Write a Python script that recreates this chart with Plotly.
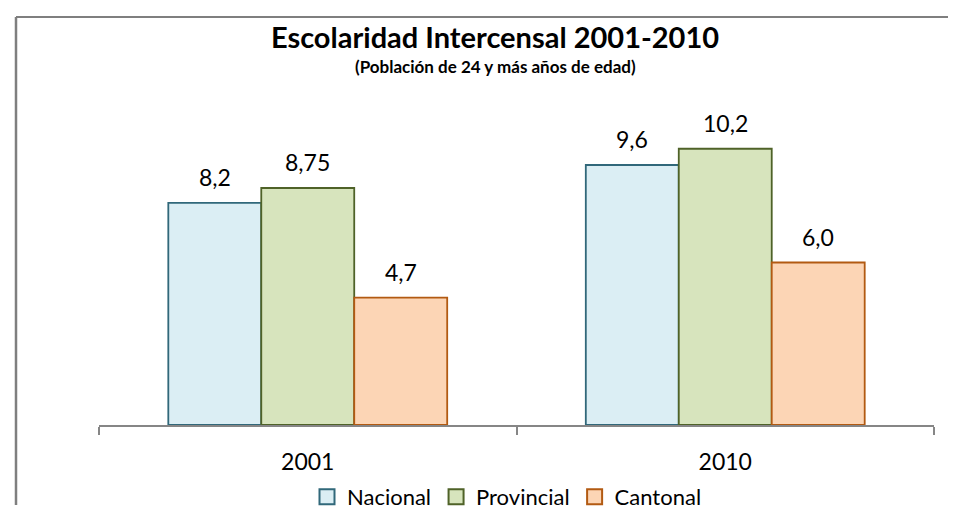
import plotly.graph_objects as go

# datos
years = ['2001', '2010']
series = ['Nacional', 'Provincial', 'Cantonal']
nacional = [8.2, 9.6]
provincial = [8.75, 10.2]
cantonal = [4.7, 6.0]
labels_nacional = ['8,2', '9,6']
labels_provincial = ['8,75', '10,2']
labels_cantonal = ['4,7', '6,0']

values = [nacional, provincial, cantonal]
labels = [labels_nacional, labels_provincial, labels_cantonal]
fills = ['#DBEEF4', '#D7E4BD', '#FCD5B5']
borders = ['#31687A', '#4F6228', '#B25A12']

FONT = 'Lato'
W, H = 956, 522
L, R, T, B = 91, 30, 92, 85
gap = 0.332

fig = go.Figure()
for n, name in enumerate(series):
    fig.add_trace(go.Bar(
        x=years,
        y=values[n],
        name=name,
        marker=dict(color=fills[n], line=dict(color=borders[n], width=1.8)),
        showlegend=False,
        hoverinfo='skip',
    ))

# leyenda con cuadrados mas grandes
for n, name in enumerate(series):
    fig.add_trace(go.Scatter(
        x=[None], y=[None], mode='markers', name=name,
        marker=dict(symbol='square', size=15, color=fills[n],
                    line=dict(color=borders[n], width=2)),
    ))

# etiquetas de datos encima de cada barra (x = indice de categoria)
plot_w = W - L - R
plot_h = H - T - B
bar_px = plot_w / len(years) * (1 - gap) / len(series)
annotations = []
for n in range(len(series)):
    for i in range(len(years)):
        annotations.append(dict(
            x=i, y=values[n][i], text=labels[n][i], showarrow=False,
            xshift=(n - 1) * bar_px, yshift=26, yanchor='middle',
            font=dict(family=FONT, size=23, color='black'),
        ))

annotations.append(dict(
    xref='paper', yref='paper',
    x=(487 - L) / plot_w, y=1 + (T - 56) / plot_h,
    text='<b>(Población de 24 y más años de edad)</b>', showarrow=False,
    xanchor='center', yanchor='middle',
    font=dict(family=FONT, size=17, color='black'),
))

top = 1 + (T - 4) / plot_h
left = (8 - L) / plot_w

fig.update_layout(
    width=W, height=H,
    barmode='group', bargap=gap, bargroupgap=0,
    plot_bgcolor='white', paper_bgcolor='white',
    margin=dict(l=L, r=R, t=T, b=B),
    title=dict(
        text='<b>Escolaridad Intercensal 2001-2010</b>',
        x=487 / W, y=1 - 30 / H, xref='container', yref='container',
        xanchor='center', yanchor='middle',
        font=dict(family=FONT, size=29, color='black'),
    ),
    xaxis=dict(
        type='category', range=[-0.5, len(years) - 0.5],
        showline=True, linecolor='#868686', linewidth=2,
        ticks='outside', tickson='boundaries', ticklen=8,
        tickcolor='#868686', tickwidth=2, ticklabelstandoff=15,
        tickfont=dict(family=FONT, size=23, color='black'),
        showgrid=False,
    ),
    yaxis=dict(range=[0, 12], visible=False, showgrid=False),
    legend=dict(
        orientation='h', x=(499 - L) / plot_w, xanchor='center',
        y=(437.5 - 514) / plot_h, yanchor='middle',
        font=dict(family=FONT, size=22, color='black'),
        itemwidth=30,
    ),
    annotations=annotations,
    shapes=[
        dict(type='line', xref='paper', yref='paper',
             x0=left, x1=left, y0=-B / plot_h, y1=top,
             line=dict(color='#7F7F7F', width=2.5)),
        dict(type='line', xref='paper', yref='paper',
             x0=left, x1=(W - L) / plot_w, y0=top, y1=top,
             line=dict(color='#7F7F7F', width=2)),
    ],
)

fig.write_html('out.html')
